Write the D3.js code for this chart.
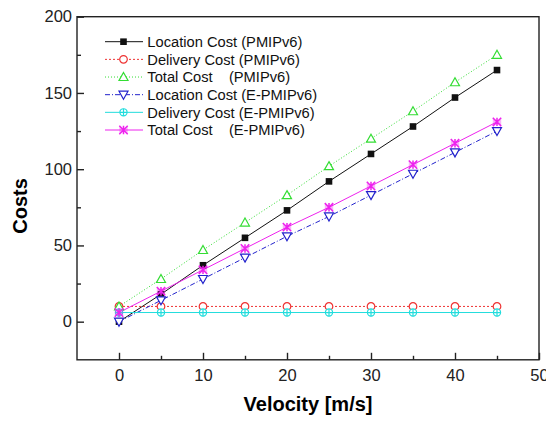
<!DOCTYPE html>
<html>
<head>
<meta charset="utf-8">
<script src="https://cdn.jsdelivr.net/npm/d3@7"></script>
<style>
  body { margin: 0; background: #fff; }
  text { font-family: Arial, "Liberation Sans", sans-serif; }
</style>
</head>
<body>
<svg id="chart" width="546" height="421"></svg>
<script>
// velocity [m/s]
const velocity = [0, 5, 10, 15, 20, 25, 30, 35, 40, 45];

const locationPMIP = [0, 18, 37, 55, 73, 92, 110, 128, 147, 165];
const deliveryPMIP = [10, 10, 10, 10, 10, 10, 10, 10, 10, 10];
const totalPMIP = [10, 28, 47, 65, 83, 102, 120, 138, 157, 175];
const locationEPMIP = [0, 14, 28, 42, 56, 69, 83, 97, 111, 125];
const deliveryEPMIP = [6, 6, 6, 6, 6, 6, 6, 6, 6, 6];
const totalEPMIP = [6, 20, 34, 48, 62, 75, 89, 103, 117, 131];

const xTicks = [0, 10, 20, 30, 40, 50];
const yTicks = [0, 50, 100, 150, 200];

const series = [
  { name: 'Location Cost (PMIPv6)', values: locationPMIP, color: '#111111', dash: null, marker: 'square' },
  { name: 'Delivery Cost (PMIPv6)', values: deliveryPMIP, color: '#ee3333', dash: '2,2', marker: 'circle' },
  { name: 'Total Cost    (PMIPv6)', values: totalPMIP, color: '#33dd33', dash: '1,2', marker: 'triangle' },
  { name: 'Location Cost (E-PMIPv6)', values: locationEPMIP, color: '#2222cc', dash: '5,2,1,2', marker: 'down' },
  { name: 'Delivery Cost (E-PMIPv6)', values: deliveryEPMIP, color: '#22dddd', dash: null, marker: 'crosshair' },
  { name: 'Total Cost    (E-PMIPv6)', values: totalEPMIP, color: '#ee22ee', dash: null, marker: 'star' },
];

const svg = d3.select('#chart');

const x = d3.scaleLinear().domain([-5, 50]).range([77, 539]);
const y = d3.scaleLinear().domain([-25, 200]).range([359.8, 16.7]);
const [pLeft, pRight] = x.range();
const [pBottom, pTop] = y.range();

// frame
svg.append('rect')
  .attr('x', pLeft).attr('y', pTop)
  .attr('width', pRight - pLeft).attr('height', pBottom - pTop)
  .attr('fill', 'none').attr('stroke', '#222').attr('stroke-width', 1.4);

// x axis, ticks point inward
const xAxis = svg.append('g').attr('transform', `translate(0,${pBottom})`);
xAxis.call(d3.axisBottom(x).tickValues(xTicks).tickSizeInner(-7).tickSizeOuter(0).tickPadding(9));
xAxis.append('g').call(d3.axisBottom(x).tickValues([5, 15, 25, 35, 45]).tickSize(-4).tickFormat(''));
xAxis.selectAll('.domain').remove();

const yAxis = svg.append('g').attr('transform', `translate(${pLeft},0)`);
yAxis.call(d3.axisLeft(y).tickValues(yTicks).tickSizeInner(-7).tickSizeOuter(0).tickPadding(5));
yAxis.append('g').call(d3.axisLeft(y).tickValues([25, 75, 125, 175]).tickSize(-4).tickFormat(''));
yAxis.selectAll('.domain').remove();

svg.selectAll('.tick line').attr('stroke', '#222').attr('stroke-width', 1.4);
svg.selectAll('.tick text')
  .attr('font-size', 16.5)
  .attr('fill', '#222')
  .style('font-family', 'Arial, "Liberation Sans", sans-serif');

// axis titles
svg.append('text')
  .attr('x', (pLeft + pRight) / 2).attr('y', 411)
  .attr('text-anchor', 'middle')
  .attr('font-size', 20).attr('font-weight', 'bold')
  .text('Velocity [m/s]');

svg.append('text')
  .attr('transform', 'translate(27,206) rotate(-90)')
  .attr('text-anchor', 'middle')
  .attr('font-size', 20).attr('font-weight', 'bold')
  .text('Costs');

const drawMarker = (g, type, color) => {
  if (type === 'square') {
    g.append('rect').attr('x', -3.3).attr('y', -3.3).attr('width', 6.6).attr('height', 6.6)
      .attr('fill', color);
  } else if (type === 'circle') {
    g.append('circle').attr('r', 3.8).attr('fill', '#fff').attr('stroke', color).attr('stroke-width', 1.2);
  } else if (type === 'triangle') {
    g.append('path').attr('d', 'M0,-4.5 L4.5,3.5 L-4.5,3.5 Z')
      .attr('fill', '#fff').attr('stroke', color).attr('stroke-width', 1.2);
  } else if (type === 'down') {
    g.append('path').attr('d', 'M0,4.5 L4.5,-3.5 L-4.5,-3.5 Z')
      .attr('fill', '#fff').attr('stroke', color).attr('stroke-width', 1.2);
  } else if (type === 'crosshair') {
    g.append('circle').attr('r', 3.6).attr('fill', '#fff').attr('stroke', color).attr('stroke-width', 1.2);
    g.append('path').attr('d', 'M-3.6,0 L3.6,0 M0,-3.6 L0,3.6')
      .attr('stroke', color).attr('stroke-width', 1.2);
  } else if (type === 'star') {
    g.append('path').attr('d', 'M-4.2,-4.2 L4.2,4.2 L4.2,-4.2 L-4.2,4.2 Z')
      .attr('fill', color).attr('fill-opacity', 0.35);
    g.append('path').attr('d', 'M-4.2,-4.2 L4.2,4.2 M4.2,-4.2 L-4.2,4.2 M0,-4.2 L0,4.2')
      .attr('stroke', color).attr('stroke-width', 1.5);
  }
};

const line = d3.line()
  .x((d, i) => x(velocity[i]))
  .y(d => y(d));

series.forEach(s => {
  svg.append('path')
    .datum(s.values)
    .attr('d', line)
    .attr('fill', 'none')
    .attr('stroke', s.color)
    .attr('stroke-width', 1)
    .attr('stroke-dasharray', s.dash);
});

series.forEach(s => {
  svg.append('g').selectAll('g')
    .data(s.values)
    .join('g')
    .attr('transform', (d, i) => `translate(${x(velocity[i])},${y(d)})`)
    .each(function each() { drawMarker(d3.select(this), s.marker, s.color); });
});

// legend
const legend = svg.append('g').attr('transform', 'translate(105,41.7)');
series.forEach((s, i) => {
  const row = legend.append('g').attr('transform', `translate(0,${i * 17.66})`);
  row.append('line').attr('x1', 0).attr('x2', 38)
    .attr('stroke', s.color).attr('stroke-width', 1)
    .attr('stroke-dasharray', s.dash);
  drawMarker(row.append('g').attr('transform', 'translate(18.5,0)'), s.marker, s.color);
  row.append('text')
    .attr('x', 42.3).attr('y', 5.3)
    .attr('font-size', 14.7)
    .attr('fill', '#111')
    .style('white-space', 'pre')
    .text(s.name);
});
</script>
</body>
</html>
